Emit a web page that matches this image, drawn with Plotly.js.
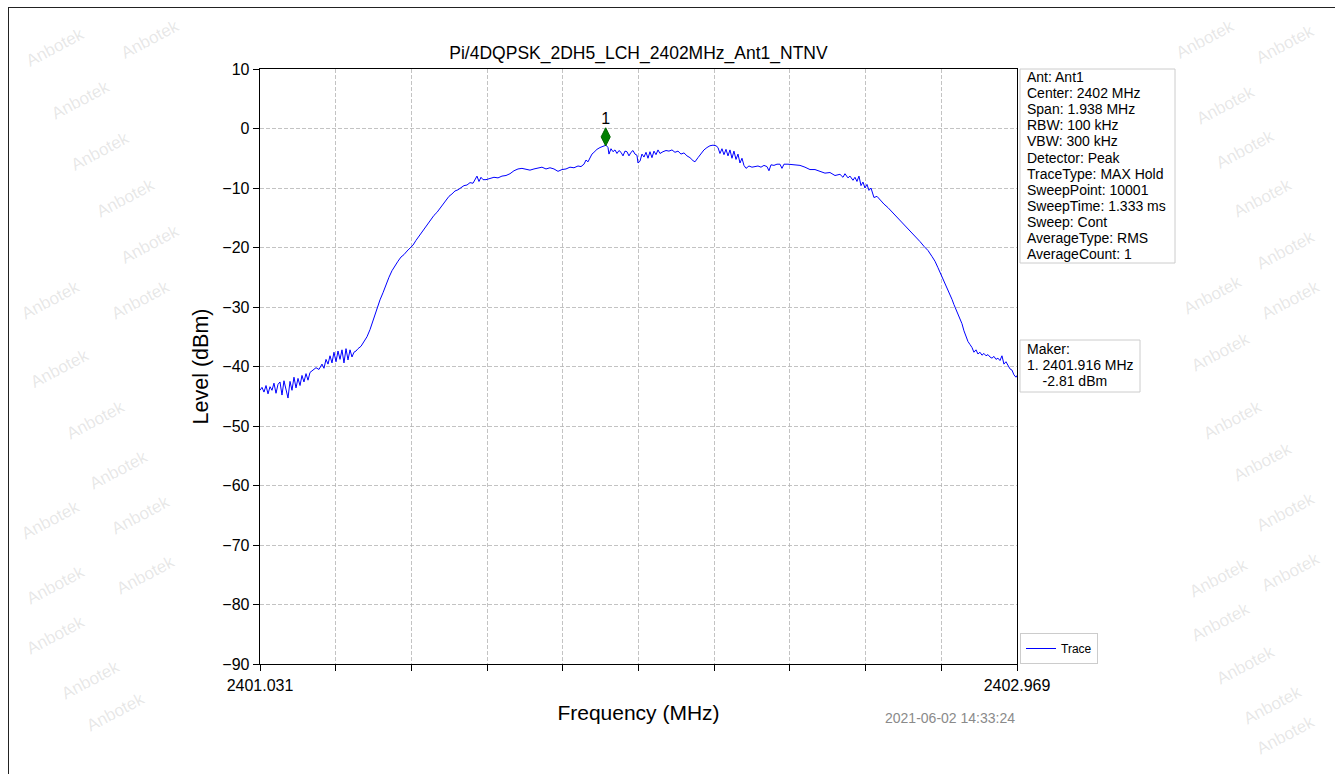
<!DOCTYPE html>
<html>
<head>
<meta charset="utf-8">
<script src="https://cdn.plot.ly/plotly-3.0.1.min.js"></script>
<style>
html,body{margin:0;padding:0;background:#fff;}
#wrap{position:relative;width:1335px;height:774px;overflow:hidden;}
#frame{position:absolute;left:8px;top:7px;width:1400px;height:900px;border-left:1.5px solid #222;border-top:1.5px solid #222;pointer-events:none;}
#chart{position:absolute;left:0;top:0;width:1335px;height:774px;}
</style>
</head>
<body>
<div id="wrap"><div id="chart"></div><div id="frame"></div></div>
<script>
const chartTitle = "Pi/4DQPSK_2DH5_LCH_2402MHz_Ant1_NTNV";
const xTitle = "Frequency (MHz)";
const yTitle = "Level (dBm)";
const xRange = [2401.031, 2402.969];
const yRange = [-90, 10];
const yTickVals = [-90, -80, -70, -60, -50, -40, -30, -20, -10, 0, 10];
const xTickVals = [2401.031, 2401.2248, 2401.4186, 2401.6124, 2401.8062, 2402.0, 2402.1938, 2402.3876, 2402.5814, 2402.7752, 2402.969];
const xTickText = ["2401.031", "", "", "", "", "", "", "", "", "", "2402.969"];

const freqMHz = [
2401.0310,2401.0361,2401.0412,2401.0464,2401.0515,2401.0566,2401.0617,2401.0668,2401.0720,2401.0771,
2401.0822,2401.0873,2401.0924,2401.0976,2401.1027,2401.1078,2401.1129,2401.1180,2401.1232,2401.1283,
2401.1334,2401.1385,2401.1436,2401.1488,2401.1539,2401.1590,2401.1667,2401.1744,2401.1820,2401.1897,
2401.1948,2401.2000,2401.2051,2401.2102,2401.2153,2401.2204,2401.2256,2401.2307,2401.2358,2401.2409,
2401.2460,2401.2512,2401.2563,2401.2614,2401.2665,2401.2716,2401.2768,2401.2819,2401.2896,2401.2972,
2401.3049,2401.3126,2401.3177,2401.3228,2401.3305,2401.3382,2401.3459,2401.3536,2401.3612,2401.3689,
2401.3766,2401.3843,2401.3920,2401.3996,2401.4073,2401.4150,2401.4227,2401.4304,2401.4380,2401.4457,
2401.4534,2401.4611,2401.4688,2401.4764,2401.4841,2401.4918,2401.4995,2401.5072,2401.5148,2401.5225,
2401.5302,2401.5379,2401.5456,2401.5532,2401.5609,2401.5686,2401.5763,2401.5814,2401.5865,2401.5916,
2401.5968,2401.6019,2401.6096,2401.6198,2401.6300,2401.6403,2401.6505,2401.6608,2401.6710,2401.6812,
2401.6915,2401.7017,2401.7120,2401.7222,2401.7324,2401.7427,2401.7529,2401.7632,2401.7734,2401.7836,
2401.7939,2401.8041,2401.8144,2401.8246,2401.8348,2401.8451,2401.8528,2401.8604,2401.8656,2401.8707,
2401.8758,2401.8809,2401.8860,2401.8937,2401.9014,2401.9091,2401.9168,2401.9219,2401.9244,2401.9296,
2401.9347,2401.9398,2401.9449,2401.9500,2401.9552,2401.9603,2401.9654,2401.9705,2401.9756,2401.9808,
2401.9859,2401.9910,2401.9961,2401.9987,2402.0038,2402.0089,2402.0140,2402.0192,2402.0243,2402.0294,
2402.0345,2402.0396,2402.0448,2402.0499,2402.0550,2402.0627,2402.0704,2402.0780,2402.0857,2402.0934,
2402.1011,2402.1088,2402.1164,2402.1241,2402.1318,2402.1395,2402.1446,2402.1523,2402.1600,2402.1676,
2402.1753,2402.1830,2402.1907,2402.1984,2402.2035,2402.2086,2402.2137,2402.2188,2402.2240,2402.2291,
2402.2342,2402.2393,2402.2444,2402.2496,2402.2547,2402.2598,2402.2649,2402.2700,2402.2752,2402.2828,
2402.2905,2402.2982,2402.3059,2402.3136,2402.3212,2402.3289,2402.3340,2402.3392,2402.3468,2402.3545,
2402.3622,2402.3673,2402.3724,2402.3827,2402.3929,2402.4032,2402.4134,2402.4262,2402.4390,2402.4518,
2402.4646,2402.4774,2402.4902,2402.5030,2402.5158,2402.5235,2402.5286,2402.5363,2402.5414,2402.5491,
2402.5542,2402.5593,2402.5644,2402.5696,2402.5747,2402.5798,2402.5849,2402.5900,2402.5952,2402.6028,
2402.6105,2402.6182,2402.6284,2402.6387,2402.6489,2402.6592,2402.6694,2402.6796,2402.6899,2402.7001,
2402.7104,2402.7206,2402.7308,2402.7411,2402.7513,2402.7590,2402.7667,2402.7744,2402.7820,2402.7897,
2402.7974,2402.8025,2402.8076,2402.8128,2402.8179,2402.8230,2402.8281,2402.8332,2402.8384,2402.8435,
2402.8486,2402.8537,2402.8588,2402.8640,2402.8691,2402.8742,2402.8793,2402.8844,2402.8896,2402.8947,
2402.8998,2402.9049,2402.9100,2402.9152,2402.9203,2402.9254,2402.9305,2402.9356,2402.9408,2402.9459,
2402.9510,2402.9561,2402.9612,2402.9664,2402.9690
];

const levelDbm = [
-44.0,-43.5,-44.3,-43.2,-44.6,-43.4,-44.0,-42.8,-44.5,-43.0,
-42.6,-44.8,-42.4,-43.8,-45.3,-42.5,-44.0,-41.8,-43.6,-42.0,
-43.2,-41.5,-42.6,-41.2,-42.3,-41.0,-40.6,-40.2,-40.5,-39.6,
-40.3,-38.8,-39.6,-38.2,-39.4,-37.6,-39.2,-37.4,-38.8,-37.2,
-39.4,-37.0,-38.9,-37.2,-38.4,-37.6,-37.4,-37.0,-36.6,-35.9,
-35.0,-33.8,-32.8,-31.6,-30.2,-28.8,-27.6,-26.2,-25.0,-23.9,
-23.0,-22.3,-21.6,-21.2,-20.6,-20.1,-19.6,-18.8,-18.1,-17.3,
-16.5,-16.0,-15.2,-14.6,-14.1,-13.4,-12.9,-12.2,-11.4,-11.0,
-10.5,-10.3,-9.9,-9.6,-9.5,-9.1,-9.2,-8.6,-8.0,-8.9,
-8.2,-8.6,-8.6,-8.4,-8.2,-8.3,-8.0,-7.9,-7.6,-7.1,
-6.8,-6.7,-6.8,-7.0,-6.8,-6.6,-6.5,-6.8,-6.6,-6.8,
-7.2,-6.9,-6.8,-6.5,-6.6,-6.3,-6.4,-6.0,-5.3,-5.6,
-4.8,-4.3,-4.0,-3.5,-3.2,-3.0,-2.8,-3.2,-4.3,-3.4,
-3.9,-3.6,-4.2,-3.7,-4.0,-4.6,-3.8,-3.9,-4.6,-4.0,
-3.7,-4.3,-4.5,-5.8,-5.5,-4.3,-4.8,-4.0,-5.0,-3.9,
-4.9,-3.8,-4.4,-3.6,-4.2,-3.9,-3.7,-3.8,-3.6,-4.0,
-3.8,-4.3,-4.1,-4.6,-4.9,-5.4,-5.6,-4.9,-4.2,-3.6,
-3.2,-2.9,-2.8,-2.9,-3.2,-4.2,-3.4,-4.4,-3.5,-4.6,
-3.6,-5.0,-3.8,-5.2,-4.3,-5.8,-5.0,-6.2,-6.7,-6.3,
-6.5,-6.4,-6.3,-6.5,-6.2,-6.4,-7.1,-6.1,-6.2,-6.0,
-6.0,-6.7,-6.0,-6.0,-6.1,-6.2,-6.2,-6.5,-6.9,-6.9,
-7.2,-7.5,-7.4,-7.9,-7.7,-8.2,-7.6,-8.3,-8.0,-8.7,
-8.2,-8.9,-8.0,-9.6,-9.0,-10.0,-9.4,-10.4,-10.0,-11.6,
-11.4,-12.0,-12.7,-13.3,-14.0,-14.8,-15.4,-16.2,-16.8,-17.6,
-18.2,-19.0,-19.8,-20.5,-21.5,-22.3,-23.4,-24.5,-25.6,-26.8,
-27.8,-28.7,-29.6,-30.4,-31.2,-32.0,-32.8,-34.0,-35.0,-35.8,
-36.3,-36.8,-37.6,-37.2,-37.9,-37.6,-38.1,-37.8,-38.2,-38.0,
-38.4,-38.6,-38.3,-38.8,-38.6,-39.0,-38.2,-39.6,-39.2,-39.8,
-40.4,-40.6,-41.4,-41.8,-41.5
];

const markerFreq = 2401.916;
const markerLevel = -2.81;
const markerLabel = "1";
const infoLines = ["Ant: Ant1", "Center: 2402 MHz", "Span: 1.938 MHz", "RBW: 100 kHz", "VBW: 300 kHz",
  "Detector: Peak", "TraceType: MAX Hold", "SweepPoint: 10001", "SweepTime: 1.333 ms", "Sweep: Cont",
  "AverageType: RMS", "AverageCount: 1"];
const makerLines = ["Maker:", "1. 2401.916 MHz", "\u00a0\u00a0\u00a0\u00a0-2.81 dBm"];
const timestamp = "2021-06-02 14:33:24";
const traceName = "Trace";
const watermark = "Anbotek";

// plot-area geometry (px) for placing decorations
const L = 260, R = 1017, T = 69, B = 664;
const px2paperX = p => (p - L) / (R - L);
const px2paperY = p => (B - p) / (B - T);

const FONT = "Liberation Sans, Arial, sans-serif";

const traces = [
  {
    x: freqMHz, y: levelDbm, type: "scatter", mode: "lines", name: traceName,
    line: {color: "#0000ff", width: 1}, hoverinfo: "x+y"
  },
  {
    x: [markerFreq], y: [markerLevel + 1.4], type: "scatter", mode: "markers+text",
    text: [markerLabel], textposition: "top center",
    textfont: {family: FONT, size: 16, color: "#000"},
    marker: {symbol: "diamond-tall", size: 13, color: "#008000", line: {color: "#006400", width: 1}},
    showlegend: false, cliponaxis: false
  }
];

const wmPos = [
  [55,48],[150,40],[80,100],[100,152],[125,198],[150,245],[50,300],[140,300],[60,368],
  [95,420],[118,470],[140,515],[50,520],[55,585],[145,575],[55,635],[90,680],[115,712],
  [1205,40],[1285,45],[1225,105],[1245,150],[1262,198],[1285,250],[1290,300],[1212,295],
  [1220,352],[1232,420],[1262,462],[1285,512],[1290,572],[1218,578],[1220,622],[1245,665],[1272,705],[1285,735]
];

const annotations = [];
const shapes = [
  {type: "rect", xref: "paper", yref: "paper", x0: px2paperX(1020), x1: px2paperX(1175), y0: px2paperY(69), y1: px2paperY(263),
   line: {color: "#cccccc", width: 1}, fillcolor: "#fff", layer: "below"},
  {type: "rect", xref: "paper", yref: "paper", x0: px2paperX(1020), x1: px2paperX(1140), y0: px2paperY(340), y1: px2paperY(392),
   line: {color: "#cccccc", width: 1}, fillcolor: "#fff", layer: "below"}
];
infoLines.forEach((t, i) => annotations.push({
  xref: "paper", yref: "paper", x: px2paperX(1025), y: px2paperY(77 + 16.1 * i), xanchor: "left", yanchor: "middle",
  text: t, showarrow: false, font: {family: FONT, size: 14, color: "#000"}
}));
makerLines.forEach((t, i) => annotations.push({
  xref: "paper", yref: "paper", x: px2paperX(1025), y: px2paperY(349 + 16 * i), xanchor: "left", yanchor: "middle",
  text: t, showarrow: false, font: {family: FONT, size: 14, color: "#000"}
}));
annotations.push({
  xref: "paper", yref: "paper", x: 1, y: px2paperY(718), xanchor: "right", yanchor: "middle",
  text: timestamp, showarrow: false, font: {family: FONT, size: 14, color: "#8a8a8a"}
});
wmPos.forEach(p => annotations.push({
  xref: "paper", yref: "paper", x: px2paperX(p[0]), y: px2paperY(p[1]),
  xanchor: "center", yanchor: "middle", text: watermark, showarrow: false, textangle: -28,
  font: {family: FONT, size: 17, color: "rgba(170,170,170,0.28)"}
}));

const layout = {
  width: 1335, height: 774,
  paper_bgcolor: "rgba(0,0,0,0)", plot_bgcolor: "rgba(0,0,0,0)",
  margin: {l: L, r: 1335 - R, t: T, b: 774 - B, pad: 0},
  font: {family: FONT, color: "#000"},
  title: {text: chartTitle, font: {family: FONT, size: 17.5, color: "#000"}, x: 0.5, xref: "paper", xanchor: "center", y: 1 - 53/774, yanchor: "middle"},
  showlegend: true,
  legend: {x: px2paperX(1020), y: 0, xanchor: "left", yanchor: "bottom", bordercolor: "#cccccc", borderwidth: 1,
           bgcolor: "#fff", font: {family: FONT, size: 12}, itemwidth: 30, tracegroupgap: 0},
  xaxis: {
    range: xRange, tickmode: "array", tickvals: xTickVals, ticktext: xTickText,
    ticks: "outside", ticklen: 6, tickwidth: 1, tickcolor: "#000",
    showline: true, linecolor: "#000", linewidth: 1.3, mirror: true,
    showgrid: true, gridcolor: "#b4b4b4", gridwidth: 0.8, griddash: "4px,2px",
    zeroline: false, tickfont: {family: FONT, size: 16}, automargin: false,
    title: {text: xTitle, font: {family: FONT, size: 21}, standoff: 12}
  },
  yaxis: {
    range: yRange, tickmode: "array", tickvals: yTickVals,
    ticks: "outside", ticklen: 6, tickwidth: 1, tickcolor: "#000",
    showline: true, linecolor: "#000", linewidth: 1.3, mirror: true,
    showgrid: true, gridcolor: "#b4b4b4", gridwidth: 0.8, griddash: "4px,2px",
    zeroline: false, tickfont: {family: FONT, size: 16}, automargin: false,
    title: {text: yTitle, font: {family: FONT, size: 21.5}, standoff: 7}
  },
  shapes: shapes,
  annotations: annotations
};

Plotly.newPlot("chart", traces, layout, {displayModeBar: false, staticPlot: true});
</script>
</body>
</html>
